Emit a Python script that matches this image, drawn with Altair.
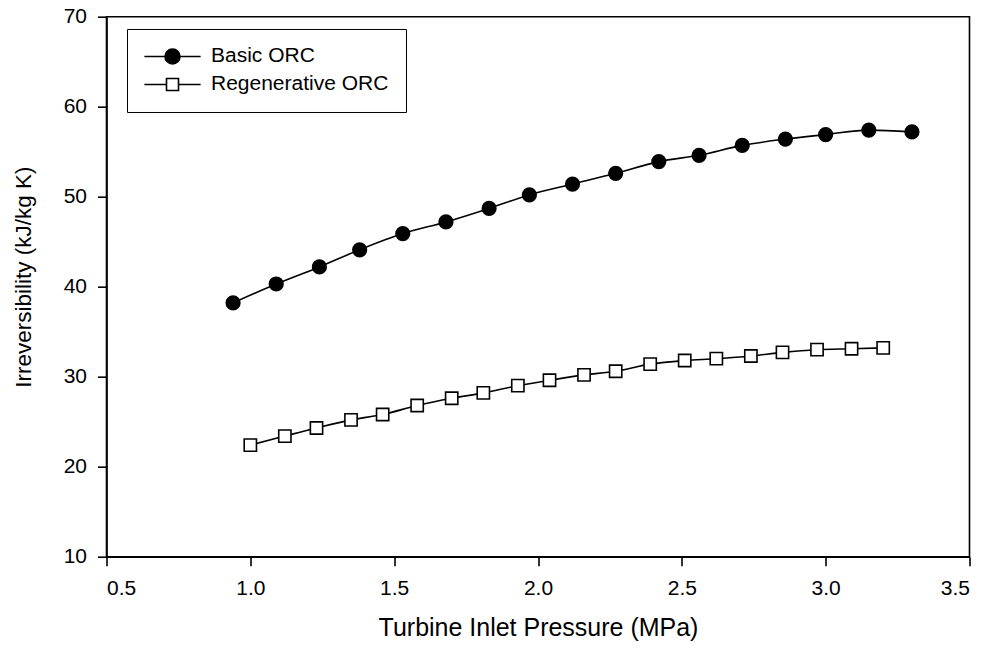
import altair as alt
import pandas as pd

# Data
series_names = ["Basic ORC", "Regenerative ORC"]

basic_x = [0.94, 1.09, 1.24, 1.38, 1.53, 1.68, 1.83, 1.97, 2.12, 2.27, 2.42,
           2.56, 2.71, 2.86, 3.00, 3.15, 3.30]
basic_y = [38.2, 40.3, 42.2, 44.1, 45.9, 47.2, 48.7, 50.2, 51.4, 52.6, 53.9,
           54.6, 55.7, 56.4, 56.9, 57.4, 57.2]

regen_x = [1.00, 1.12, 1.23, 1.35, 1.46, 1.58, 1.70, 1.81, 1.93, 2.04, 2.16,
           2.27, 2.39, 2.51, 2.62, 2.74, 2.85, 2.97, 3.09, 3.20]
regen_y = [22.4, 23.4, 24.3, 25.2, 25.8, 26.8, 27.6, 28.2, 29.0, 29.6, 30.2,
           30.6, 31.4, 31.8, 32.0, 32.3, 32.7, 33.0, 33.1, 33.2]

x_ticks = [0.5, 1.0, 1.5, 2.0, 2.5, 3.0, 3.5]
y_ticks = [10, 20, 30, 40, 50, 60, 70]

df = pd.concat([
    pd.DataFrame({"p": basic_x, "irr": basic_y, "series": series_names[0]}),
    pd.DataFrame({"p": regen_x, "irr": regen_y, "series": series_names[1]}),
], ignore_index=True)

FONT = "Liberation Sans"

x_enc = alt.X("p:Q", scale=alt.Scale(domain=[0.5, 3.5], nice=False, zero=False),
              axis=alt.Axis(values=x_ticks, format=".1f",
                            title="Turbine Inlet Pressure (MPa)"))
y_enc = alt.Y("irr:Q", scale=alt.Scale(domain=[10, 70], nice=False, zero=False),
              axis=alt.Axis(values=y_ticks, title="Irreversibility (kJ/kg K)",
                            titleY=260))

base = alt.Chart(df)

lines = base.mark_line(interpolate="monotone", color="black", strokeWidth=1.6).encode(
    x=x_enc, y=y_enc, detail="series:N"
)

points = base.mark_point(stroke="black", strokeWidth=1.6, opacity=1).encode(
    x=x_enc, y=y_enc,
    shape=alt.Shape("series:N", scale=alt.Scale(domain=series_names, range=["circle", "square"]), legend=None),
    fill=alt.Fill("series:N", scale=alt.Scale(domain=series_names, range=["black", "white"]), legend=None),
    size=alt.Size("series:N", scale=alt.Scale(domain=series_names, range=[185, 150]), legend=None),
)

# legend-only layer (no data drawn): symbol = line with marker
leg_paths = [
    "M-3.75,0H-1M1,0H3.75M-1,0A1,1 0 1,1 1,0A1,1 0 1,1 -1,0Z",
    "M-3.75,0H-0.8M0.8,0H3.75M-0.8,-0.8H0.8V0.8H-0.8Z",
]


def leg():
    return alt.Legend(
        orient="none", legendX=20.5, legendY=12.3, title=None,
        strokeColor="black", fillColor="white", padding=17,
        labelFont=FONT, labelFontSize=21, labelColor="black", labelLimit=400,
        symbolSize=225, symbolOffset=18, labelOffset=28,
        symbolStrokeWidth=1.6, symbolStrokeColor="black",
        rowPadding=6, clipHeight=21)


legend_layer = base.transform_filter("false").mark_point(
    strokeWidth=1.6, opacity=1
).encode(
    shape=alt.Shape("series:N", scale=alt.Scale(domain=series_names, range=leg_paths), legend=leg()),
    fill=alt.Fill("series:N", scale=alt.Scale(domain=series_names, range=["black", "white"]), legend=leg()),
    stroke=alt.Stroke("series:N", scale=alt.Scale(domain=series_names, range=["black", "black"]), legend=leg()),
)

chart = alt.layer(lines, points, legend_layer).resolve_scale(
    shape="independent", fill="independent", stroke="independent", size="independent"
).properties(
    width=863, height=540,
    autosize=alt.AutoSizeParams(type="none"),
    padding={"left": 98.5, "top": 8.7, "right": 10, "bottom": 85},
).configure_view(
    stroke="black", strokeWidth=1.6
).configure_axis(
    grid=False, domainColor="black", domainWidth=1.6, tickColor="black",
    tickWidth=1.6, tickSize=9, labelColor="black", titleColor="black",
    labelFont=FONT, titleFont=FONT, labelFontSize=21,
    titleFontWeight="normal",
).configure_axisX(
    labelPadding=12, titlePadding=17, titleFontSize=25,
).configure_axisY(
    labelPadding=11, titlePadding=28, titleFontSize=22.5,
)

chart.save("out.html", embed_options={"renderer": "svg", "actions": False})
